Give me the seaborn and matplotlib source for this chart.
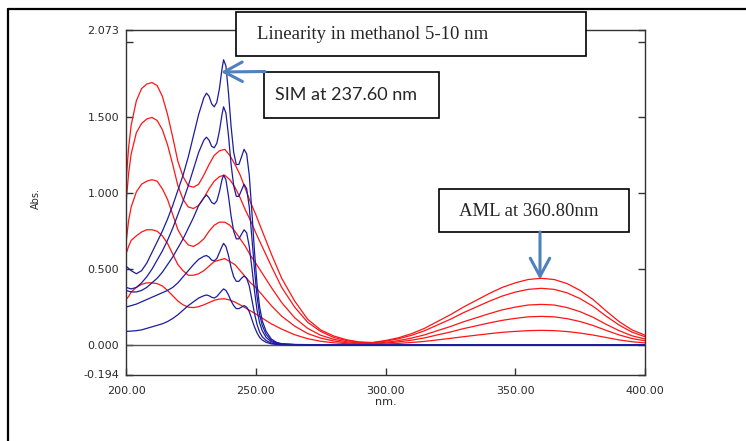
import pandas as pd
import matplotlib
matplotlib.use("Agg")
import matplotlib.pyplot as plt
from matplotlib.patches import Rectangle, FancyArrowPatch
from matplotlib.lines import Line2D
import seaborn as sns

# ---------------------------------------------
# DATA
# ---------------------------------------------

# amlodipine (red) spectra, 5 concentrations
wl_aml = [200, 201, 202, 204, 206, 208, 210, 212, 214, 216, 218, 220, 222, 224, 226, 228,
          230, 232, 234, 236, 238, 240, 242, 244, 246, 248, 250, 253, 256, 260, 265, 270,
          275, 280, 285, 290, 295, 300, 305, 310, 315, 320, 325, 330, 335, 340, 345, 350,
          355, 360, 365, 370, 375, 380, 385, 390, 395, 400]
aml_1 = [1.07, 1.30, 1.45, 1.61, 1.69, 1.72, 1.73, 1.71, 1.64, 1.52, 1.37, 1.21, 1.11, 1.05, 1.04, 1.06,
         1.12, 1.19, 1.25, 1.28, 1.29, 1.25, 1.19, 1.12, 1.03, 0.94, 0.86, 0.73, 0.60, 0.44, 0.29, 0.17,
         0.10, 0.06, 0.035, 0.02, 0.017, 0.03, 0.048, 0.075, 0.11, 0.155, 0.20, 0.25, 0.295, 0.34, 0.38, 0.41,
         0.432, 0.44, 0.432, 0.405, 0.36, 0.30, 0.225, 0.155, 0.10, 0.065]
aml_2 = [0.93, 1.13, 1.26, 1.40, 1.46, 1.49, 1.50, 1.48, 1.42, 1.32, 1.19, 1.05, 0.96, 0.91, 0.90, 0.92,
         0.97, 1.03, 1.08, 1.11, 1.12, 1.09, 1.04, 0.97, 0.89, 0.82, 0.74, 0.63, 0.52, 0.38, 0.25, 0.15,
         0.09, 0.05, 0.03, 0.018, 0.015, 0.026, 0.041, 0.064, 0.094, 0.132, 0.17, 0.213, 0.251, 0.289, 0.323, 0.349,
         0.367, 0.374, 0.367, 0.344, 0.306, 0.255, 0.191, 0.132, 0.085, 0.055]
aml_3 = [0.67, 0.82, 0.91, 1.01, 1.06, 1.08, 1.09, 1.08, 1.03, 0.96, 0.86, 0.76, 0.70, 0.66, 0.65, 0.67,
         0.70, 0.75, 0.79, 0.81, 0.81, 0.79, 0.75, 0.70, 0.65, 0.59, 0.54, 0.46, 0.38, 0.28, 0.18, 0.11,
         0.065, 0.038, 0.022, 0.013, 0.011, 0.018, 0.029, 0.046, 0.067, 0.095, 0.122, 0.153, 0.18, 0.207, 0.232, 0.25,
         0.264, 0.268, 0.264, 0.247, 0.22, 0.183, 0.137, 0.095, 0.061, 0.04]
aml_4 = [0.60, 0.65, 0.69, 0.72, 0.745, 0.76, 0.76, 0.75, 0.72, 0.67, 0.60, 0.53, 0.49, 0.46, 0.46, 0.47,
         0.49, 0.52, 0.55, 0.56, 0.57, 0.55, 0.53, 0.49, 0.45, 0.41, 0.38, 0.32, 0.26, 0.19, 0.125, 0.076,
         0.046, 0.027, 0.015, 0.009, 0.008, 0.013, 0.021, 0.032, 0.047, 0.067, 0.086, 0.108, 0.127, 0.146, 0.163, 0.176,
         0.186, 0.189, 0.186, 0.174, 0.155, 0.129, 0.097, 0.067, 0.043, 0.028]
aml_5 = [0.30, 0.32, 0.35, 0.38, 0.40, 0.41, 0.41, 0.405, 0.39, 0.36, 0.325, 0.29, 0.265, 0.25, 0.247, 0.253,
         0.265, 0.28, 0.295, 0.303, 0.305, 0.297, 0.283, 0.265, 0.245, 0.225, 0.205, 0.172, 0.14, 0.105, 0.068, 0.042,
         0.025, 0.015, 0.009, 0.006, 0.005, 0.007, 0.011, 0.017, 0.024, 0.034, 0.044, 0.055, 0.065, 0.075, 0.084, 0.09,
         0.095, 0.097, 0.095, 0.089, 0.079, 0.066, 0.05, 0.034, 0.022, 0.014]

# simvastatin (blue) spectra, 5 concentrations
wl_sim = [200, 202, 204, 206, 208, 210, 212, 214, 216, 218, 220, 222, 224, 226, 228, 230,
          231, 232, 233, 234, 235, 236, 237, 237.6,
          238.5, 239.5, 240.5, 241.5, 242.5, 243.5, 244.5, 245.5, 246.5, 247.5, 248.5, 249.5, 250.5, 251.5, 252.5,
          254, 256, 258, 260, 265, 270, 280, 300, 320, 340, 360, 380, 400]
sim_1 = [0.52, 0.49, 0.47, 0.49, 0.54, 0.61, 0.68, 0.75, 0.83, 0.92, 1.02, 1.12, 1.24, 1.38, 1.52, 1.63,
         1.66, 1.64, 1.59, 1.57, 1.60, 1.69, 1.82, 1.88,
         1.84, 1.66, 1.44, 1.27, 1.19, 1.19, 1.24, 1.29, 1.26, 1.12, 0.88, 0.62, 0.40, 0.25, 0.16,
         0.09, 0.04, 0.018, 0.009, 0.004, 0.003, 0.002, 0.002, 0.002, 0.002, 0.002, 0.002, 0.002]
sim_2 = [0.38, 0.37, 0.38, 0.41, 0.45, 0.50, 0.56, 0.62, 0.69, 0.77, 0.86, 0.95, 1.05, 1.16, 1.27, 1.35,
         1.37, 1.35, 1.31, 1.30, 1.33, 1.41, 1.52, 1.57,
         1.53, 1.38, 1.19, 1.05, 0.98, 0.98, 1.02, 1.06, 1.03, 0.91, 0.71, 0.50, 0.32, 0.20, 0.13,
         0.07, 0.03, 0.014, 0.007, 0.003, 0.002, 0.002, 0.002, 0.002, 0.002, 0.002, 0.002, 0.002]
sim_3 = [0.36, 0.35, 0.35, 0.36, 0.38, 0.41, 0.44, 0.48, 0.53, 0.58, 0.64, 0.70, 0.77, 0.84, 0.92, 0.97,
         0.99, 0.97, 0.94, 0.93, 0.95, 1.01, 1.09, 1.12,
         1.09, 0.98, 0.85, 0.75, 0.70, 0.70, 0.73, 0.76, 0.74, 0.65, 0.51, 0.36, 0.23, 0.145, 0.095,
         0.05, 0.022, 0.01, 0.005, 0.003, 0.002, 0.002, 0.002, 0.002, 0.002, 0.002, 0.002, 0.002]
sim_4 = [0.25, 0.26, 0.27, 0.285, 0.30, 0.315, 0.33, 0.345, 0.36, 0.38, 0.41, 0.45, 0.49, 0.53, 0.565, 0.585,
         0.59, 0.58, 0.56, 0.555, 0.57, 0.61, 0.65, 0.67,
         0.65, 0.59, 0.51, 0.45, 0.42, 0.42, 0.44, 0.455, 0.44, 0.39, 0.30, 0.21, 0.135, 0.085, 0.055,
         0.03, 0.013, 0.006, 0.003, 0.002, 0.002, 0.002, 0.002, 0.002, 0.002, 0.002, 0.002, 0.002]
sim_5 = [0.09, 0.092, 0.095, 0.10, 0.11, 0.12, 0.13, 0.14, 0.155, 0.175, 0.20, 0.23, 0.26, 0.285, 0.31, 0.325,
         0.33, 0.325, 0.315, 0.31, 0.32, 0.34, 0.36, 0.37,
         0.36, 0.33, 0.29, 0.26, 0.24, 0.24, 0.25, 0.26, 0.25, 0.22, 0.17, 0.12, 0.08, 0.05, 0.033,
         0.018, 0.008, 0.004, 0.002, 0.002, 0.002, 0.002, 0.002, 0.002, 0.002, 0.002, 0.002, 0.002]

y_ticks = [-0.194, 0.0, 0.5, 1.0, 1.5, 2.0, 2.073]
y_labels = ['-0.194', '0.000', '0.500', '1.000', '1.500', '', '2.073']
x_ticks = [200, 250, 300, 350, 400]
x_labels = ['200.00', '250.00', '300.00', '350.00', '400.00']

# long tables for seaborn
aml = pd.concat([pd.DataFrame({'nm': wl_aml, 'abs': v, 'curve': i})
                 for i, v in enumerate([aml_1, aml_2, aml_3, aml_4, aml_5])])
sim = pd.concat([pd.DataFrame({'nm': wl_sim, 'abs': v, 'curve': i})
                 for i, v in enumerate([sim_1, sim_2, sim_3, sim_4, sim_5])])

# ---------------------------------------------
# PLOT
# ---------------------------------------------
sns.set_theme(style='white')
plt.rcParams['font.family'] = ['DejaVu Sans']

W, H = 746, 441
fig = plt.figure(figsize=(W / 100, H / 100), dpi=100)
ax = fig.add_axes([126 / W, 1 - 374.5 / H, 519 / W, 344 / H])

ax.axhline(0, color='#555555', lw=1.0, zorder=1)
sns.lineplot(data=aml, x='nm', y='abs', units='curve', estimator=None, sort=False,
             color='#ff1414', lw=0.9, ax=ax, zorder=2)
sns.lineplot(data=sim, x='nm', y='abs', units='curve', estimator=None, sort=False,
             color='#1c1ca0', lw=0.9, ax=ax, zorder=3)

ax.set_xlim(200, 400)
ax.set_ylim(-0.194, 2.073)
ax.set_xticks(x_ticks)
ax.set_xticklabels(x_labels)
ax.set_yticks(y_ticks)
ax.set_yticklabels(y_labels)
ax.set_xlabel('')
ax.set_ylabel('')
ax.tick_params(axis='y', direction='in', left=True, right=True, length=5, width=1,
               color='#333333', labelsize=8, labelcolor='#2b2b2b', pad=5)
ax.tick_params(axis='x', direction='in', bottom=True, length=5, width=1,
               color='#333333', labelsize=8, labelcolor='#2b2b2b', pad=8)
for s in ax.spines.values():
    s.set_color('#333333')
    s.set_linewidth(1.0)

fig.text(36 / W, 1 - 198 / H, 'Abs.', rotation=90, ha='center', va='center',
         fontsize=7, color='#2b2b2b')
fig.text(385.5 / W, 1 - 402 / H, 'nm.', ha='center', va='center', fontsize=8, color='#2b2b2b')


def fx(x, y):
    return (x / W, 1 - y / H)


# outer frame (top and left edges only)
fig.add_artist(Line2D([7.5 / W, 7.5 / W], [1 - 8.5 / H, 0], color='black', lw=1.6,
                      transform=fig.transFigure))
fig.add_artist(Line2D([7.5 / W, 1], [1 - 8.5 / H, 1 - 8.5 / H], color='black', lw=1.6,
                      transform=fig.transFigure))

# text boxes
boxes = [(236, 12, 586, 56), (264, 72, 439, 118), (439, 189, 629, 232)]
for x0, y0, x1, y1 in boxes:
    fig.add_artist(Rectangle(fx(x0, y1), (x1 - x0) / W, (y1 - y0) / H, transform=fig.transFigure,
                             facecolor='white', edgecolor='black', lw=1.2, zorder=5))

fig.text(*fx(257, 39), 'Linearity in methanol 5-10 nm', family='Liberation Serif',
         fontsize=13.5, va='baseline', ha='left', zorder=6)
fig.text(*fx(275, 100), 'SIM at 237.60 nm', family='Lato',
         fontsize=13, va='baseline', ha='left', zorder=6)
fig.text(*fx(459, 216), 'AML at 360.80nm', family='Liberation Serif',
         fontsize=13.5, va='baseline', ha='left', zorder=6)

# arrows
for a, b in [((265, 71.5), (221, 72)), ((540, 232), (540, 279.5))]:
    fig.add_artist(FancyArrowPatch(fx(*a), fx(*b), transform=fig.transFigure,
                                   arrowstyle='->,head_length=13,head_width=7', mutation_scale=1,
                                   shrinkA=0, shrinkB=0, lw=2.2, color='#4f81bd', zorder=7))

fig.savefig('out.png', dpi=100)
